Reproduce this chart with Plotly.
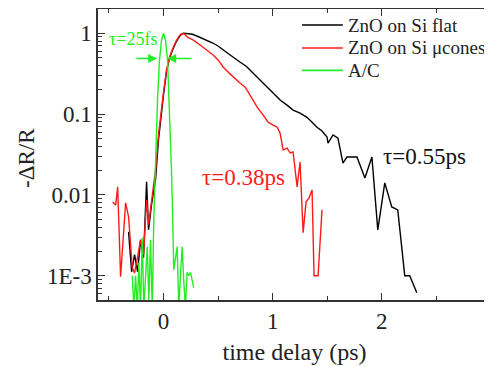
import plotly.graph_objects as go

# ---- data ----
flat_t = [-0.320, -0.292, -0.265, -0.237, -0.210, -0.183, -0.155, -0.137, -0.110, -0.091,
          -0.073, -0.046, -0.027, 0.000, 0.027, 0.055, 0.082, 0.119, 0.155, 0.183,
          0.228, 0.265, 0.311, 0.356, 0.402, 0.457, 0.502, 0.548, 0.594, 0.639,
          0.703, 0.758, 0.822, 0.886, 0.950, 1.005, 1.068, 1.132, 1.187, 1.251,
          1.315, 1.361, 1.406, 1.452, 1.498, 1.507, 1.553, 1.598, 1.644, 1.680,
          1.772, 1.845, 1.909, 1.963, 2.027, 2.091, 2.146, 2.210, 2.256, 2.320]
flat_v = [0.00349, 0.00112, 0.00182, 0.00112, 0.00278, 0.00167, 0.0145, 0.0037, 0.00753, 0.0115,
          0.0153, 0.0478, 0.0843, 0.172, 0.330, 0.491, 0.617, 0.796, 0.945, 1.0,
          0.986, 0.972, 0.918, 0.868, 0.820, 0.752, 0.691, 0.617, 0.566, 0.505,
          0.438, 0.391, 0.321, 0.263, 0.215, 0.182, 0.149, 0.129, 0.112, 0.103,
          0.0912, 0.0794, 0.0688, 0.0618, 0.0521, 0.0438, 0.0552, 0.0505, 0.0248, 0.0294,
          0.0294, 0.0162, 0.0294, 0.0037, 0.0141, 0.00711, 0.00653, 0.001, 0.001, 0.000617]

cones_t = [-0.466, -0.438, -0.420, -0.393, -0.347, -0.320, -0.286, -0.265, -0.237, -0.210,
           -0.183, -0.155, -0.137, -0.110, -0.091, -0.073, -0.046, -0.027, 0.000, 0.027,
           0.055, 0.082, 0.119, 0.155, 0.183, 0.219, 0.274, 0.338, 0.402, 0.457,
           0.502, 0.548, 0.612, 0.658, 0.703, 0.749, 0.795, 0.822, 0.858, 0.913,
           0.959, 1.005, 1.041, 1.068, 1.096, 1.132, 1.160, 1.187, 1.224, 1.251,
           1.279, 1.306, 1.333, 1.361, 1.379, 1.416, 1.452]
cones_v = [0.0082, 0.00753, 0.0126, 0.00097, 0.00797, 0.00535, 0.00126, 0.00108, 0.00172, 0.00278,
           0.00182, 0.00867, 0.00427, 0.00867, 0.0133, 0.0204, 0.055, 0.0972, 0.187, 0.349,
           0.505, 0.634, 0.820, 0.972, 1.0, 0.893, 0.820, 0.711, 0.617, 0.535,
           0.464, 0.380, 0.312, 0.271, 0.241, 0.215, 0.172, 0.149, 0.122, 0.0972,
           0.0794, 0.0731, 0.0688, 0.0582, 0.0359, 0.0380, 0.0330, 0.0340, 0.0126, 0.0255,
           0.0034, 0.0082, 0.00918, 0.0115, 0.001, 0.001, 0.00653]

ac_t = [-0.286, -0.271, -0.256, -0.240, -0.226, -0.210, -0.195, -0.180, -0.149, -0.134,
        -0.119, -0.103, -0.089, -0.073, -0.055, -0.037, -0.018, 0.000, 0.018, 0.037,
        0.055, 0.073, 0.082, 0.094, 0.125, 0.140, 0.155, 0.171, 0.185, 0.201,
        0.216, 0.231, 0.247, 0.277]
ac_v = [0.001, 0.0004, 0.001, 0.0004, 0.00145, 0.0004, 0.00294, 0.0004, 0.00228, 0.0005,
        0.00278, 0.0004, 0.00491, 0.0359, 0.149, 0.464, 0.820, 1.0, 0.820, 0.464,
        0.112, 0.0204, 0.00711, 0.00119, 0.00228, 0.0004, 0.001, 0.00228, 0.00088, 0.0004,
        0.0011, 0.001, 0.0011, 0.00071]

series_names = ["ZnO on Si flat", "ZnO on Si \u03bccones", "A/C"]

x_ticks = [0, 1, 2, 3]
y_ticks = [0.001, 0.01, 0.1, 1]
y_labels = ["1E-3", "0.01", "0.1", "1"]

FONT = "Times New Roman, Liberation Serif, serif"
RED = "#ff1a1a"
GREEN = "#22ee22"
AX = "#333333"
TXT = "#222222"
colors = ["black", RED, GREEN]

fig = go.Figure()
for t, v, name, c in zip([flat_t, cones_t, ac_t], [flat_v, cones_v, ac_v], series_names, colors):
    fig.add_trace(go.Scatter(x=t, y=v, mode="lines", name=name, showlegend=False,
                             line=dict(color=c, width=1.4)))

minor_y = [m * 10 ** e for e in range(-4, 1) for m in range(2, 10)]

axis_common = dict(showline=True, linecolor=AX, linewidth=1.5, mirror="allticks",
                   ticks="inside", tickcolor=AX, tickwidth=1.3, showgrid=False,
                   zeroline=False, automargin=False,
                   tickfont=dict(family=FONT, size=23, color=TXT))

fig.update_xaxes(range=[-0.6, 3.0], tickvals=x_ticks, ticklen=7,
                 minor=dict(tickvals=[-0.5, 0.5, 1.5, 2.5], ticklen=4, ticks="inside",
                            tickcolor=AX),
                 title=dict(text="time delay (ps)", font=dict(family=FONT, size=24, color=TXT),
                            standoff=10),
                 **axis_common)
fig.update_yaxes(type="log", range=[-3.3, 0.3], tickvals=y_ticks, ticktext=y_labels, ticklen=7,
                 minor=dict(tickvals=minor_y, ticklen=4, ticks="inside", tickcolor=AX),
                 **axis_common)

# y-axis title placed as rotated text
fig.add_annotation(x=-0.1807, y=0.488, xref="paper", yref="paper", text="-\u0394R/R",
                   textangle=-90, showarrow=False, xanchor="center", yanchor="middle",
                   font=dict(family=FONT, size=23, color=TXT))

# legend drawn by hand (line sample + label) so its row spacing matches
leg_y = [0.945, 0.866, 0.789]
for name, c, yy in zip(series_names, colors, leg_y):
    fig.add_shape(type="line", xref="paper", yref="paper", x0=0.519, x1=0.623, y0=yy, y1=yy,
                  line=dict(color=c, width=1.6))
    fig.add_annotation(x=0.631, y=yy, xref="paper", yref="paper", text=name, showarrow=False,
                       xanchor="left", yanchor="middle",
                       font=dict(family=FONT, size=19, color=TXT))

# annotations
fig.add_annotation(x=-0.279, y=-0.07, xref="x", yref="y", text="\u03c4=25fs",
                   showarrow=False, font=dict(family=FONT, size=18, color=GREEN))
fig.add_annotation(x=-0.058, y=-0.312, ax=-0.262, ay=-0.312, xref="x", yref="y",
                   axref="x", ayref="y", text="", showarrow=True, arrowhead=2,
                   arrowsize=1.2, arrowwidth=1.5, arrowcolor=GREEN)
fig.add_annotation(x=0.034, y=-0.312, ax=0.271, ay=-0.312, xref="x", yref="y",
                   axref="x", ayref="y", text="", showarrow=True, arrowhead=2,
                   arrowsize=1.2, arrowwidth=1.5, arrowcolor=GREEN)
fig.add_annotation(x=0.732, y=-1.79, xref="x", yref="y", text="\u03c4=0.38ps",
                   showarrow=False, font=dict(family=FONT, size=23, color=RED))
fig.add_annotation(x=2.393, y=-1.52, xref="x", yref="y", text="\u03c4=0.55ps",
                   showarrow=False, font=dict(family=FONT, size=23, color="#111"))

# the page body adds an 8px offset, so the figure is sized to end at the window edge
fig.update_layout(
    width=484, height=359,
    margin=dict(l=90, r=1, t=1, b=67),
    plot_bgcolor="white", paper_bgcolor="white",
    font=dict(family=FONT, color=TXT),
    showlegend=False,
)

fig.write_html("out.html")
